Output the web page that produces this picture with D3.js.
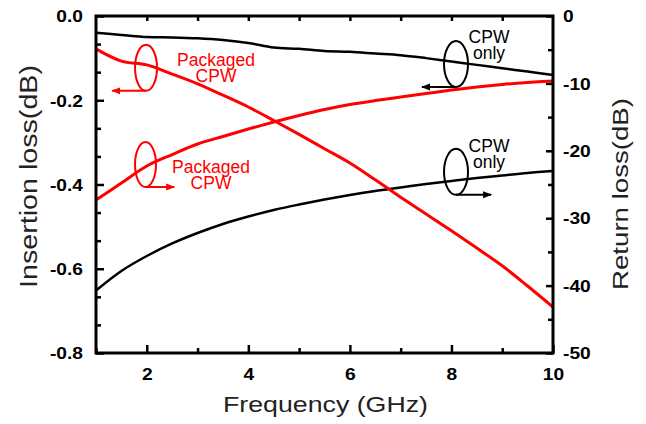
<!DOCTYPE html>
<html>
<head>
<meta charset="utf-8">
<script src="https://cdn.jsdelivr.net/npm/d3@7"></script>
<style>
body{margin:0;background:#fff;}
text{font-family:"Liberation Sans",Arial,sans-serif;}
</style>
</head>
<body>
<script>
// frequency points (GHz)
var freq = [1,1.5,2,2.5,3,3.5,4,4.5,5,5.5,6,6.5,7,7.5,8,8.5,9,9.5,10];

// insertion loss (dB), left axis
var ilCpw = [-0.040,-0.045,-0.050,-0.051,-0.053,-0.057,-0.064,-0.075,-0.078,-0.083,-0.085,-0.089,-0.093,-0.100,-0.108,-0.116,-0.124,-0.132,-0.140];
var ilPkg = [-0.078,-0.107,-0.116,-0.138,-0.161,-0.188,-0.216,-0.248,-0.281,-0.315,-0.349,-0.389,-0.430,-0.470,-0.510,-0.551,-0.593,-0.641,-0.691];

// return loss (dB), right axis
var rlCpw = [-40.73,-37.83,-35.61,-33.75,-32.20,-30.86,-29.75,-28.78,-27.97,-27.23,-26.56,-25.96,-25.45,-24.93,-24.48,-24.04,-23.66,-23.29,-23.00];
var rlPkg = [-27.30,-24.78,-22.26,-20.55,-18.99,-17.88,-16.77,-15.73,-14.76,-13.87,-13.13,-12.54,-12.02,-11.50,-10.98,-10.53,-10.16,-9.87,-9.64];

var xTicks = [2,4,6,8,10];
var xMinor = [1,3,5,7,9];
var leftTicks = [0,-0.2,-0.4,-0.6,-0.8];
var rightTicks = [0,-10,-20,-30,-40,-50];

var width = 646;
var height = 424;
var plotL = 96, plotR = 553, plotT = 16, plotB = 353;
var red = "#ff0000";

var svg = d3.select("body").append("svg")
            .attr("width", width)
            .attr("height", height);

var x = d3.scaleLinear().domain([1,10]).range([plotL,plotR]);
var yL = d3.scaleLinear().domain([-0.8,0]).range([plotB,plotT]);
var yR = d3.scaleLinear().domain([-50,0]).range([plotB,plotT]);

// minor ticks on left axis: two between each major
var leftMinor = [];
leftTicks.slice(0,-1).forEach(function(t){
  leftMinor.push(t - 0.2/3, t - 0.4/3);
});
var rightMinor = [-5,-15,-25,-35,-45];

function styleAxis(g){
  g.select(".domain").remove();
  g.selectAll("line").attr("stroke","#000").attr("stroke-width",2.5);
}

// bottom axis
svg.append("g").attr("transform","translate(0,"+plotB+")")
   .call(d3.axisBottom(x).tickValues(xMinor).tickSize(-5).tickFormat(""))
   .call(styleAxis);
svg.append("g").attr("transform","translate(0,"+plotB+")")
   .call(d3.axisBottom(x).tickValues(xTicks).tickSize(-8).tickFormat(function(d){return String(d);}))
   .call(styleAxis)
   .selectAll("text")
   .attr("y",null).attr("dy",null)
   .attr("transform","translate(0,27) scale(1.2,1)")
   .attr("font-size",16).attr("font-weight","bold").attr("fill","#000");

// top ticks
svg.append("g").attr("transform","translate(0,"+plotT+")")
   .call(d3.axisTop(x).tickValues(d3.range(2,10)).tickSize(-5).tickFormat(""))
   .call(styleAxis);

// left axis
svg.append("g").attr("transform","translate("+plotL+",0)")
   .call(d3.axisLeft(yL).tickValues(leftMinor).tickSize(-5).tickFormat(""))
   .call(styleAxis);
svg.append("g").attr("transform","translate("+plotL+",0)")
   .call(d3.axisLeft(yL).tickValues(leftTicks).tickSize(-8).tickFormat(function(d){return d.toFixed(1);}))
   .call(styleAxis)
   .selectAll("text")
   .attr("x",null).attr("dy","0.36em")
   .attr("transform","translate(-13,0) scale(1.2,1)")
   .attr("font-size",16).attr("font-weight","bold").attr("fill","#000");

// right axis
svg.append("g").attr("transform","translate("+plotR+",0)")
   .call(d3.axisRight(yR).tickValues(rightMinor).tickSize(-5).tickFormat(""))
   .call(styleAxis);
svg.append("g").attr("transform","translate("+plotR+",0)")
   .call(d3.axisRight(yR).tickValues(rightTicks).tickSize(-7).tickFormat(function(d){return String(d);}))
   .call(styleAxis)
   .selectAll("text")
   .attr("x",null).attr("dy","0.36em")
   .attr("transform","translate(10,0) scale(1.2,1)")
   .attr("font-size",16).attr("font-weight","bold").attr("fill","#000");

// curves
var lineL = d3.line().x(function(d,i){return x(freq[i]);}).y(function(d){return yL(d);}).curve(d3.curveCatmullRom);
var lineR = d3.line().x(function(d,i){return x(freq[i]);}).y(function(d){return yR(d);}).curve(d3.curveCatmullRom);

svg.append("path").attr("d",lineL(ilCpw)).attr("fill","none").attr("stroke","#000").attr("stroke-width",2.5);
svg.append("path").attr("d",lineR(rlCpw)).attr("fill","none").attr("stroke","#000").attr("stroke-width",2.5);
svg.append("path").attr("d",lineR(rlPkg)).attr("fill","none").attr("stroke",red).attr("stroke-width",3);
svg.append("path").attr("d",lineL(ilPkg)).attr("fill","none").attr("stroke",red).attr("stroke-width",3);

// frame
svg.append("rect")
   .attr("x",plotL).attr("y",plotT)
   .attr("width",plotR-plotL).attr("height",plotB-plotT)
   .attr("fill","none").attr("stroke","#000").attr("stroke-width",3);

// arrow heads
var defs = svg.append("defs");
[["arrRed",red],["arrBlack","#000"]].forEach(function(m){
  defs.append("marker")
      .attr("id",m[0])
      .attr("markerUnits","userSpaceOnUse")
      .attr("markerWidth",10).attr("markerHeight",8)
      .attr("refX",8).attr("refY",4)
      .attr("orient","auto")
      .append("path").attr("d","M0,0.5 L9,4 L0,7.5 Z").attr("fill",m[1]);
});

// annotations: ellipse centre (f, left-axis value), arrow end f, label position
var notes = [
  {cx:1.985, cy:-0.123, rx:11, ry:23, to:1.32, color:red, marker:"arrRed", lx:216, ly:66, t:["Packaged","CPW"]},
  {cx:1.975, cy:-0.3525, rx:10.5, ry:22.5, to:2.54, color:red, marker:"arrRed", lx:211, ly:173, t:["Packaged","CPW"]},
  {cx:8.09, cy:-0.114, rx:12, ry:23, to:7.42, color:"#000", marker:"arrBlack", lx:489, ly:43, t:["CPW","only"]},
  {cx:8.09, cy:-0.370, rx:12, ry:23, to:8.78, color:"#000", marker:"arrBlack", lx:489, ly:152, t:["CPW","only"]}
];

notes.forEach(function(n){
  var cx = x(n.cx), cy = yL(n.cy);
  svg.append("ellipse")
     .attr("cx",cx).attr("cy",cy).attr("rx",n.rx).attr("ry",n.ry)
     .attr("fill","none").attr("stroke",n.color).attr("stroke-width",2);
  svg.append("line")
     .attr("x1",cx).attr("y1",cy+n.ry)
     .attr("x2",x(n.to)).attr("y2",cy+n.ry)
     .attr("stroke",n.color).attr("stroke-width",2)
     .attr("marker-end","url(#"+n.marker+")");
  n.t.forEach(function(s,i){
    svg.append("text")
       .attr("x",n.lx).attr("y",n.ly+i*16)
       .attr("text-anchor","middle")
       .attr("font-size",17.5)
       .attr("fill",n.color)
       .text(s);
  });
});

// axis titles
svg.append("text")
   .attr("transform","translate(37,176.5) rotate(-90)")
   .attr("text-anchor","middle")
   .attr("font-size",23)
   .attr("textLength",223).attr("lengthAdjust","spacingAndGlyphs")
   .attr("fill","#222")
   .text("Insertion loss(dB)");

svg.append("text")
   .attr("transform","translate(628,194) rotate(-90)")
   .attr("text-anchor","middle")
   .attr("font-size",22)
   .attr("textLength",192).attr("lengthAdjust","spacingAndGlyphs")
   .attr("fill","#222")
   .text("Return loss(dB)");

svg.append("text")
   .attr("x",325.5).attr("y",412)
   .attr("text-anchor","middle")
   .attr("font-size",22)
   .attr("textLength",205).attr("lengthAdjust","spacingAndGlyphs")
   .attr("fill","#222")
   .text("Frequency (GHz)");
</script>
</body>
</html>
